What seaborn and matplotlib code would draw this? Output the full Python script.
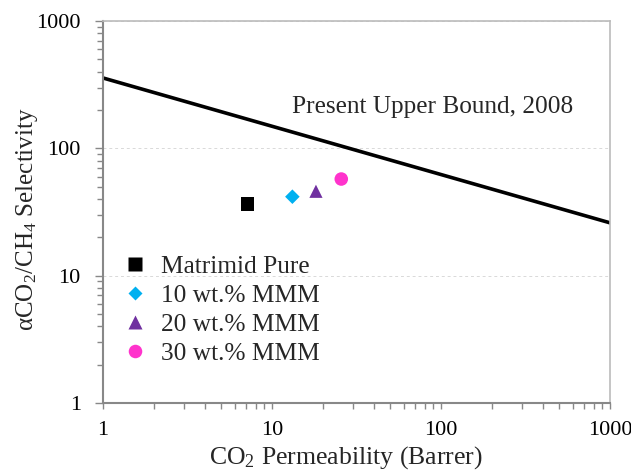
import matplotlib
matplotlib.use("Agg")
import matplotlib.pyplot as plt
import seaborn as sns
import pandas as pd
from matplotlib.ticker import LogLocator, NullFormatter, FixedFormatter, FixedLocator

# Membrane data: CO2 permeability (Barrer) and CO2/CH4 selectivity
samples = ["Matrimid Pure", "10 wt.% MMM", "20 wt.% MMM", "30 wt.% MMM"]
permeability = [7.2, 13.2, 18.2, 25.7]
selectivity = [36.5, 41.7, 46.0, 57.4]
colors = ["#000000", "#00B0F0", "#7030A0", "#FF33CC"]
markers = ["s", "D", "^", "o"]
marker_sizes = [90, 55, 90, 95]

# Robeson 2008 upper bound, end points over the plotted range
bound_perm = [1, 1000]
bound_sel = [357, 26]

tick_values = [1, 10, 100, 1000]
tick_labels = ["1", "10", "100", "1000"]

sns.set_theme(style="white")
plt.rcParams["font.family"] = ["Liberation Serif", "DejaVu Serif"]
plt.rcParams["mathtext.fontset"] = "custom"
plt.rcParams["mathtext.rm"] = "Liberation Serif"
plt.rcParams["mathtext.it"] = "Liberation Serif:italic"

df = pd.DataFrame({"perm": permeability, "sel": selectivity, "sample": samples})
bound = pd.DataFrame({"perm": bound_perm, "sel": bound_sel})

fig = plt.figure(figsize=(6.31, 4.73), dpi=100)
ax = fig.add_axes([103 / 631, 1 - 403 / 473, 507 / 631, 382 / 473])

ax.set_xscale("log")
ax.set_yscale("log")

sns.lineplot(data=bound, x="perm", y="sel", color="black", linewidth=2.6, ax=ax,
             legend=False)
sns.scatterplot(data=df, x="perm", y="sel", hue="sample", style="sample",
                size="sample",
                palette=dict(zip(samples, colors)),
                markers=dict(zip(samples, markers)),
                sizes=dict(zip(samples, marker_sizes)),
                edgecolor="none", ax=ax)

ax.set_xlim(1, 1000)
ax.set_ylim(1, 1000)

ax.xaxis.set_major_locator(FixedLocator(tick_values))
ax.xaxis.set_major_formatter(FixedFormatter(tick_labels))
ax.yaxis.set_major_locator(FixedLocator(tick_values))
ax.yaxis.set_major_formatter(FixedFormatter(tick_labels))
ax.xaxis.set_minor_locator(LogLocator(base=10, subs=range(2, 10)))
ax.yaxis.set_minor_locator(LogLocator(base=10, subs=range(2, 10)))
ax.xaxis.set_minor_formatter(NullFormatter())
ax.yaxis.set_minor_formatter(NullFormatter())

ax.tick_params(axis="both", which="major", direction="out", colors="#888888",
               labelcolor="black", labelsize=16)
ax.tick_params(axis="y", which="major", length=6, width=1, pad=10)
ax.tick_params(axis="x", which="major", length=4, width=1, pad=9)
ax.tick_params(axis="both", which="minor", direction="out", length=4, width=1,
               colors="#888888")
ax.xaxis.set_ticks_position("bottom")
ax.yaxis.set_ticks_position("left")

ax.grid(True, which="major", axis="y", color="#d9d9d9", linestyle=(0, (3, 3)),
        linewidth=0.7)
ax.grid(False, which="major", axis="x")

for side in ["left", "bottom"]:
    ax.spines[side].set_color("#888888")
    ax.spines[side].set_linewidth(1.5)
for side in ["top", "right"]:
    ax.spines[side].set_color("#bbbbbb")
    ax.spines[side].set_linewidth(1.2)

ax.set_xlabel("CO$_2$ Permeability (Barrer)", fontsize=18.5)
ax.set_ylabel("αCO$_2$/CH$_4$ Selectivity", fontsize=18)
ax.xaxis.set_label_coords(0.48, -0.108)
ax.yaxis.set_label_coords(-0.125, 0.48)

ax.text(13.1, 211, "Present Upper Bound, 2008", fontsize=18.2, va="center",
        ha="left")

leg = ax.legend(loc="upper left", bbox_to_anchor=(0.0375, 0.387), frameon=False,
                fontsize=18.3, handlelength=1.0, handletextpad=0.52,
                labelspacing=0.25, borderpad=0, borderaxespad=0,
                markerscale=1.0)

fig.savefig("out.png", dpi=100)
